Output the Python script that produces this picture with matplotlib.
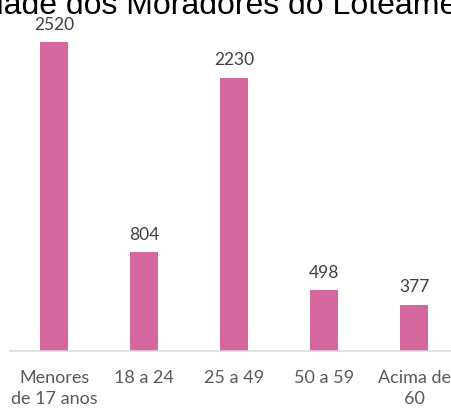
import matplotlib
matplotlib.use("Agg")
import matplotlib.pyplot as plt

# faixas etárias e quantidade de moradores
faixas = ["Menores\nde 17 anos", "18 a 24", "25 a 49", "50 a 59", "Acima de\n60"]
moradores = [2520, 804, 2230, 498, 377]

cor_barra = "#D5679F"

fig = plt.figure(figsize=(4.52, 4.10), dpi=100)
ax = fig.add_axes([10 / 452, 58 / 410, 442 / 452, 318.8 / 410])

x = list(range(len(faixas)))
ax.bar(x, moradores, width=0.32, color=cor_barra, zorder=2)

for xi, v in zip(x, moradores):
    ax.annotate(str(v), (xi, v), xytext=(0, 7.5), textcoords="offset points",
                ha="center", va="bottom", fontsize=12.5, family="Lato",
                color="#404040")

ax.set_xlim(-0.489, 4.422)
ax.set_ylim(0, 2600)
ax.set_xticks(x)
ax.set_xticklabels(faixas, fontsize=13, family="Lato", color="#595959",
                   linespacing=1.4)
ax.tick_params(axis="x", length=0, pad=13)
ax.set_yticks([])

for lado in ["top", "right", "left"]:
    ax.spines[lado].set_visible(False)
ax.spines["bottom"].set_color("#D9D9D9")
ax.spines["bottom"].set_linewidth(1.1)

fig.text(239.7 / 452, 1 - 13.5 / 410, "Idade dos Moradores do Loteamento",
         ha="center", va="baseline", fontsize=23, family="Liberation Sans",
         color="black")

fig.savefig("out.png", dpi=100)
